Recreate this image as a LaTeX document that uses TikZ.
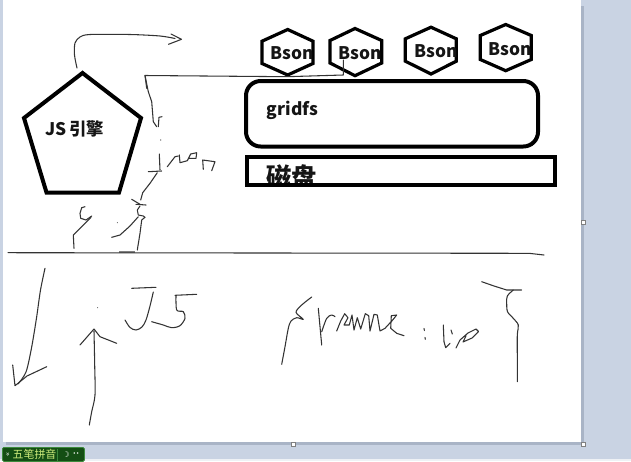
\documentclass[tikz,border=0pt]{standalone}
\usepackage{fontspec}
\setmainfont{Noto Sans CJK SC}
\newfontfamily\cjk{Noto Sans CJK SC}
\newfontfamily\djv{DejaVu Sans}
\definecolor{bgc}{HTML}{C9D3E3}
\definecolor{shadowc}{HTML}{A9B4C6}
\definecolor{barc}{HTML}{EEF1F5}
\definecolor{inkc}{HTML}{333333}
\definecolor{txtc}{HTML}{151515}
\definecolor{imegreen}{HTML}{144E14}
\definecolor{imeborder}{HTML}{3D8A3D}
\definecolor{imetext}{HTML}{CDEB7A}
\begin{document}
\begin{tikzpicture}[x=0.75pt,y=-0.75pt,
  sketch/.style={draw=inkc, line width=0.8pt, line cap=round, line join=round},
  thickline/.style={draw=black, line width=3pt, line join=miter},
  hexline/.style={draw=black, line width=2.4pt, line join=miter},
  lbl/.style={inner sep=0pt, text=txtc, font=\bfseries\fontsize{13pt}{15pt}\selectfont},
  handle/.style={draw=gray, fill=white, line width=0.5pt}]
\useasboundingbox (0,0) rectangle (631,461);
% window background and canvas
\fill[bgc] (0,0) rectangle (631,461);
\fill[shadowc] (6,6) rectangle (584,445);
\fill[white] (3,0) rectangle (581,442);
\fill[barc] (0,458.5) rectangle (631,461);
\draw[handle] (581.5,220) rectangle (585.5,224);
\draw[handle] (581.5,442) rectangle (585.5,446);
\draw[handle] (291.8,442) rectangle (295.8,446);
% IME toolbar
\node[draw=imeborder, fill=imegreen, line width=0.6pt, minimum width=61.5pt, minimum height=10.5pt, inner sep=0pt, anchor=north west, rounded corners=1pt] (ime) at (2,447) {};
\node[inner sep=0pt, text=imetext, font=\cjk\fontsize{8.2pt}{9pt}\selectfont] (imetxt) at (34.5,454.5) {五笔拼音};
\node[inner sep=0pt, text=white, font=\djv\fontsize{5pt}{6pt}\selectfont, rotate=-90] (imechev) at (7.5,454.5) {»};
\node[inner sep=0pt, text=white, font=\djv\fontsize{6pt}{6pt}\selectfont] (imemoon) at (66,454.5) {☽};
\node[inner sep=0pt, text=white, font=\djv\fontsize{4pt}{6pt}\selectfont] (imedots) at (76,454.5) {••};
\draw[imeborder, line width=0.5pt] (57,448.5) -- (57,460.5);

% pentagon
\draw[thickline] (82.5,73) -- (141,118) -- (119,192.5) -- (46.5,192.5) -- (24,118) -- cycle;
\node[lbl, anchor=base west, font=\bfseries\fontsize{13pt}{15pt}\selectfont] (js) at (45,135.5) {JS\,引擎};

% hexagons
\draw[hexline] (287.7,29.5) -- (313,41.2) -- (313,63.5) -- (287.7,75) -- (262,63.5) -- (262,41.2) -- cycle;
\draw[hexline] (355,28.5) -- (381.7,40.5) -- (381.7,63) -- (355,75.7) -- (330,63) -- (330,40.5) -- cycle;
\draw[hexline] (431,27.2) -- (456.3,38.8) -- (456.3,61.2) -- (431,74) -- (405.3,61.2) -- (405.3,38.8) -- cycle;
\draw[hexline] (505.7,24.5) -- (531.3,35.5) -- (531.3,59.5) -- (505.7,70.7) -- (480.3,59.5) -- (480.3,35.5) -- cycle;
\node[lbl, anchor=base west] (b1) at (270.5,59.3) {Bson};
\node[lbl, anchor=base west] (b2) at (338.3,59.3) {Bson};
\node[lbl, anchor=base west] (b3) at (414,57.3) {Bson};
\node[lbl, anchor=base west] (b4) at (488.3,55) {Bson};

% gridfs box
\draw[thickline, rounded corners=11pt] (246,81) rectangle (538,146.5);
\node[lbl, anchor=base west] (gridfs) at (266.7,115.7) {gridfs};

% disk box
\begin{scope}
\clip (247,157) rectangle (555,185);
\node[inner sep=0pt, anchor=base west, text=txtc, font=\bfseries\fontsize{19pt}{20pt}\selectfont] (disk) at (266.2,186) {磁盘};
\end{scope}
\draw[thickline] (247,157) rectangle (555,185);

% hand-drawn strokes, upper part
\draw[sketch] plot[smooth] coordinates {(77,68) (74.5,55) (75,43) (80,37) (90,34.5) (130,34.5) (160,36) (175,38.5)};
\draw[sketch] (171,34) -- (181.5,39.3) -- (168.5,44.3);
\draw[sketch] (156.7,126.7) -- (153.3,121.7) -- (151.7,101.7) -- (148.3,91.7) -- (145,75.5) -- (286.7,76.7) -- (343.3,75) -- (343.3,60);
\draw[sketch] (145,75.5) -- (146.7,88.3);
\draw[sketch] (158.3,126.7) -- (159,117.3) -- (162,116.7);
\fill[inkc] (160.7,140) circle (0.6);
\draw[sketch] (159.3,154) -- (160,170);
\draw[sketch] (148.3,171.7) -- (161.7,171);
\draw[sketch] (157.3,172.7) -- (150,183.3) -- (142.7,192.7) -- (140.7,200);
\draw[sketch] (131.7,199.3) -- (140,204.3);
\draw[sketch] (136,204.3) -- (146,205);
\draw[sketch] (140,206) -- (137.3,210) -- (138.3,215) -- (143.3,216) -- (145,217.3) -- (141.7,220) -- (140,233.3) -- (137.3,250);
\draw[sketch] (138.3,216.7) -- (130,226) -- (120,235) -- (111.7,237.3);
\fill[inkc] (117.3,222.7) circle (0.5);
\draw[draw=gray, line width=1.5pt] (119.3,251.7) -- (135,251.7);
\draw[sketch] (85,206.7) -- (81.7,207.7) -- (80,213.3) -- (80.7,218.3) -- (86,220) -- (91.7,216);
\draw[sketch] (91,217.3) -- (81.7,226.7) -- (73.3,235) -- (74,248.3);
\draw[sketch] (167.3,166.7) -- (175,156.7) -- (178.3,156);
\draw[sketch] (179.3,155) -- (180,162.7) -- (187.3,160.7) -- (190.7,154) -- (196.7,152.7) -- (196,158.3) -- (188.3,158.3);
\draw[sketch] (203.3,169.3) -- (202.7,160) -- (215,161.7) -- (211.7,170.7);

% divider
\draw[sketch] (8,252.7) -- (529,253.3) -- (544,255);

% lower part: arrows
\draw[sketch] plot[smooth] coordinates {(45,268.3) (40.5,290) (36.5,318) (31.5,348) (26,372) (18,384)};
\draw[sketch] (12.7,365) -- (15,385.7) -- (27,376) -- (46.7,366.7);
\draw[sketch] plot[smooth] coordinates {(89.3,425) (91.7,411.7) (95,395) (94.7,365) (94,331)};
\draw[sketch] (80,345) -- (94,329) -- (100,336.7) -- (116.7,343.3);
\fill[inkc] (97.7,307.7) circle (0.5);
% JS
\draw[sketch] (131.7,288.3) -- (156,287.3);
\draw[sketch] plot[smooth] coordinates {(153.3,292) (150,306) (146,320) (142,327) (136,330) (130,327.5) (125,320)};
\draw[sketch] (175,295.3) -- (196.7,294.3);
\draw[sketch] plot[smooth] coordinates {(176,295.7) (176.7,310) (183.3,311.7) (185,318.3) (180,325.7) (171.7,327.7) (163.3,325) (151.7,321.7)};
% filename : list
\draw[sketch] plot[smooth] coordinates {(281.7,364.3) (285,346.7) (288.3,328.3) (291,321) (296.7,317.7) (303.3,319.3) (296,312.3) (301.7,305) (311.7,297)};
\draw[sketch] (318.3,308.3) -- (321.7,345);
\draw[sketch] plot[smooth] coordinates {(321.7,331.7) (326.7,318.3) (331.7,315) (335,316.7)};
\draw[sketch] (336.7,331) -- (340.7,321) -- (344.7,313.7) -- (348,317.7) -- (344,325) -- (349.3,325) -- (352,315) -- (354,330) -- (357.3,317.7) -- (360.7,329) -- (365.3,313.7) -- (368.7,315.7) -- (370,331) -- (374,314.3) -- (377.3,315) -- (380,331) -- (385,328.3) -- (392.7,320) -- (396.7,315) -- (391.3,315.7) -- (390.7,328.3) -- (396.7,333.3) -- (404,335.7);
\draw[sketch] (424,328.5) -- (424.4,330.5);
\draw[sketch] (425,337.5) -- (425.3,339.3);
\draw[sketch] (443.3,325) -- (444,341.7) -- (445.7,347.7) -- (450,343.3);
\draw[sketch] (451,330) -- (452.3,334);
\draw[sketch] (456,348) -- (460,340) -- (468,333) -- (476,329) -- (478.5,331.5) -- (472,338) -- (463,342) -- (466,336);
\draw[sketch] (481.7,281.7) -- (494,286) -- (506.7,290) -- (521.7,290);
\draw[sketch] plot[smooth] coordinates {(513.3,290) (507.3,296) (506.7,303) (507.5,311.7) (513,318) (518.3,325) (517.3,335) (517.3,360) (517.3,381.7)};
\end{tikzpicture}
\end{document}
